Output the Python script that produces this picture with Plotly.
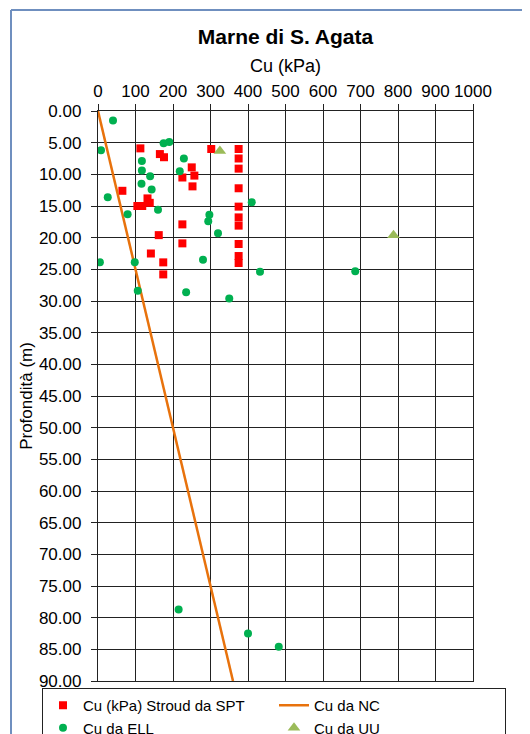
import plotly.graph_objects as go

# Cu da SPT (Stroud)
spt_cu = [113, 165, 176, 302, 250, 257, 225, 252, 65, 132, 138, 105, 118,
          225, 162, 225, 141, 174, 174,
          375, 375, 375, 375, 375, 375, 375, 375, 375, 375]
spt_z = [5.9, 6.8, 7.3, 6.0, 8.9, 10.2, 10.5, 11.9, 12.6, 13.8, 14.5, 15.0, 15.0,
         17.9, 19.6, 20.9, 22.5, 23.9, 25.8,
         6.0, 7.5, 9.1, 12.2, 15.1, 16.8, 18.1, 21.0, 22.9, 24.0]

# Cu da ELL
ell_cu = [40, 8, 175, 190, 117, 229, 117, 139, 218, 116, 143, 26, 160, 79, 410,
          297, 294, 320, 5, 98, 280, 432, 686, 106, 235, 350, 215, 400, 482]
ell_z = [1.5, 6.2, 5.1, 4.9, 7.9, 7.5, 9.4, 10.3, 9.5, 11.5, 12.4, 13.6, 15.6, 16.3, 14.4,
         16.4, 17.4, 19.3, 23.9, 23.9, 23.5, 25.4, 25.3, 28.4, 28.6, 29.6, 78.7, 82.5, 84.6]

# Cu da UU
uu_cu = [325, 788]
uu_z = [6.3, 19.6]

# Cu da NC
nc_cu = [0, 360]
nc_z = [0, 90]

# the page body adds an 8px offset, so margins are given in figure pixels
OFF = 8
W, H = 530, 734
L, T = 98 - OFF, 111 - OFF
R = W - (473 - OFF)
B = H - (681 - OFF)
pw, ph = W - L - R, H - T - B

fig = go.Figure()
fig.add_trace(go.Scatter(x=spt_cu, y=spt_z, mode='markers',
                         name='Cu (kPa) Stroud da SPT',
                         marker=dict(symbol='square', size=8, color='#ff0000')))
fig.add_trace(go.Scatter(x=nc_cu, y=nc_z, mode='lines', name='Cu da NC',
                         line=dict(color='#e8720c', width=2.5)))
fig.add_trace(go.Scatter(x=ell_cu, y=ell_z, mode='markers', name='Cu da ELL',
                         marker=dict(symbol='circle', size=8, color='#00b050')))
fig.add_trace(go.Scatter(x=uu_cu, y=uu_z, mode='markers', name='Cu da UU',
                         marker=dict(symbol='triangle-up', size=11, color='#9bbb59')))

fig.update_layout(
    width=W, height=H,
    margin=dict(l=L, r=R, t=T, b=B, autoexpand=False),
    paper_bgcolor='white', plot_bgcolor='white',
    font=dict(family='Liberation Sans, Arial', size=17, color='black'),
    title=dict(text='<b>Marne di S. Agata</b>', x=(L + pw / 2) / W, xanchor='center',
               y=1 - (37 - OFF) / H, yanchor='middle', font=dict(size=21)),
    xaxis=dict(title=dict(text='Cu (kPa)', font=dict(size=18), standoff=4),
               side='top', range=[0, 1000], dtick=100,
               showgrid=True, gridcolor='#222', gridwidth=1.3,
               showline=True, linecolor='#222', linewidth=1.3, mirror=True,
               ticks='outside', ticklen=6, tickcolor='#222', zeroline=False),
    yaxis=dict(title=dict(text='Profondità (m)', font=dict(size=17), standoff=1),
               range=[90, 0], dtick=5, tickformat='.2f', ticklabelstandoff=6,
               showgrid=True, gridcolor='#222', gridwidth=1.3,
               showline=True, linecolor='#222', linewidth=1.3, mirror=True,
               ticks='outside', ticklen=6, tickcolor='#222', zeroline=False),
    legend=dict(orientation='h', x=(42 - OFF - L) / pw, xanchor='left',
                y=-7 / ph, yanchor='top', entrywidth=186, entrywidthmode='pixels',
                bordercolor='#222', borderwidth=1, bgcolor='white',
                font=dict(size=15), tracegroupgap=0),
    shapes=[
        dict(type='line', xref='paper', yref='paper',
             x0=(11 - OFF - L) / pw, x1=(11 - OFF - L) / pw,
             y0=1 + (T - 2) / ph, y1=-0.2, line=dict(color='#6f8fbf', width=2)),
        dict(type='line', xref='paper', yref='paper',
             x0=(11 - OFF - L) / pw, x1=1.3,
             y0=1 + (T - 2) / ph, y1=1 + (T - 2) / ph, line=dict(color='#6f8fbf', width=2)),
    ],
)

fig.write_html("out.html")
